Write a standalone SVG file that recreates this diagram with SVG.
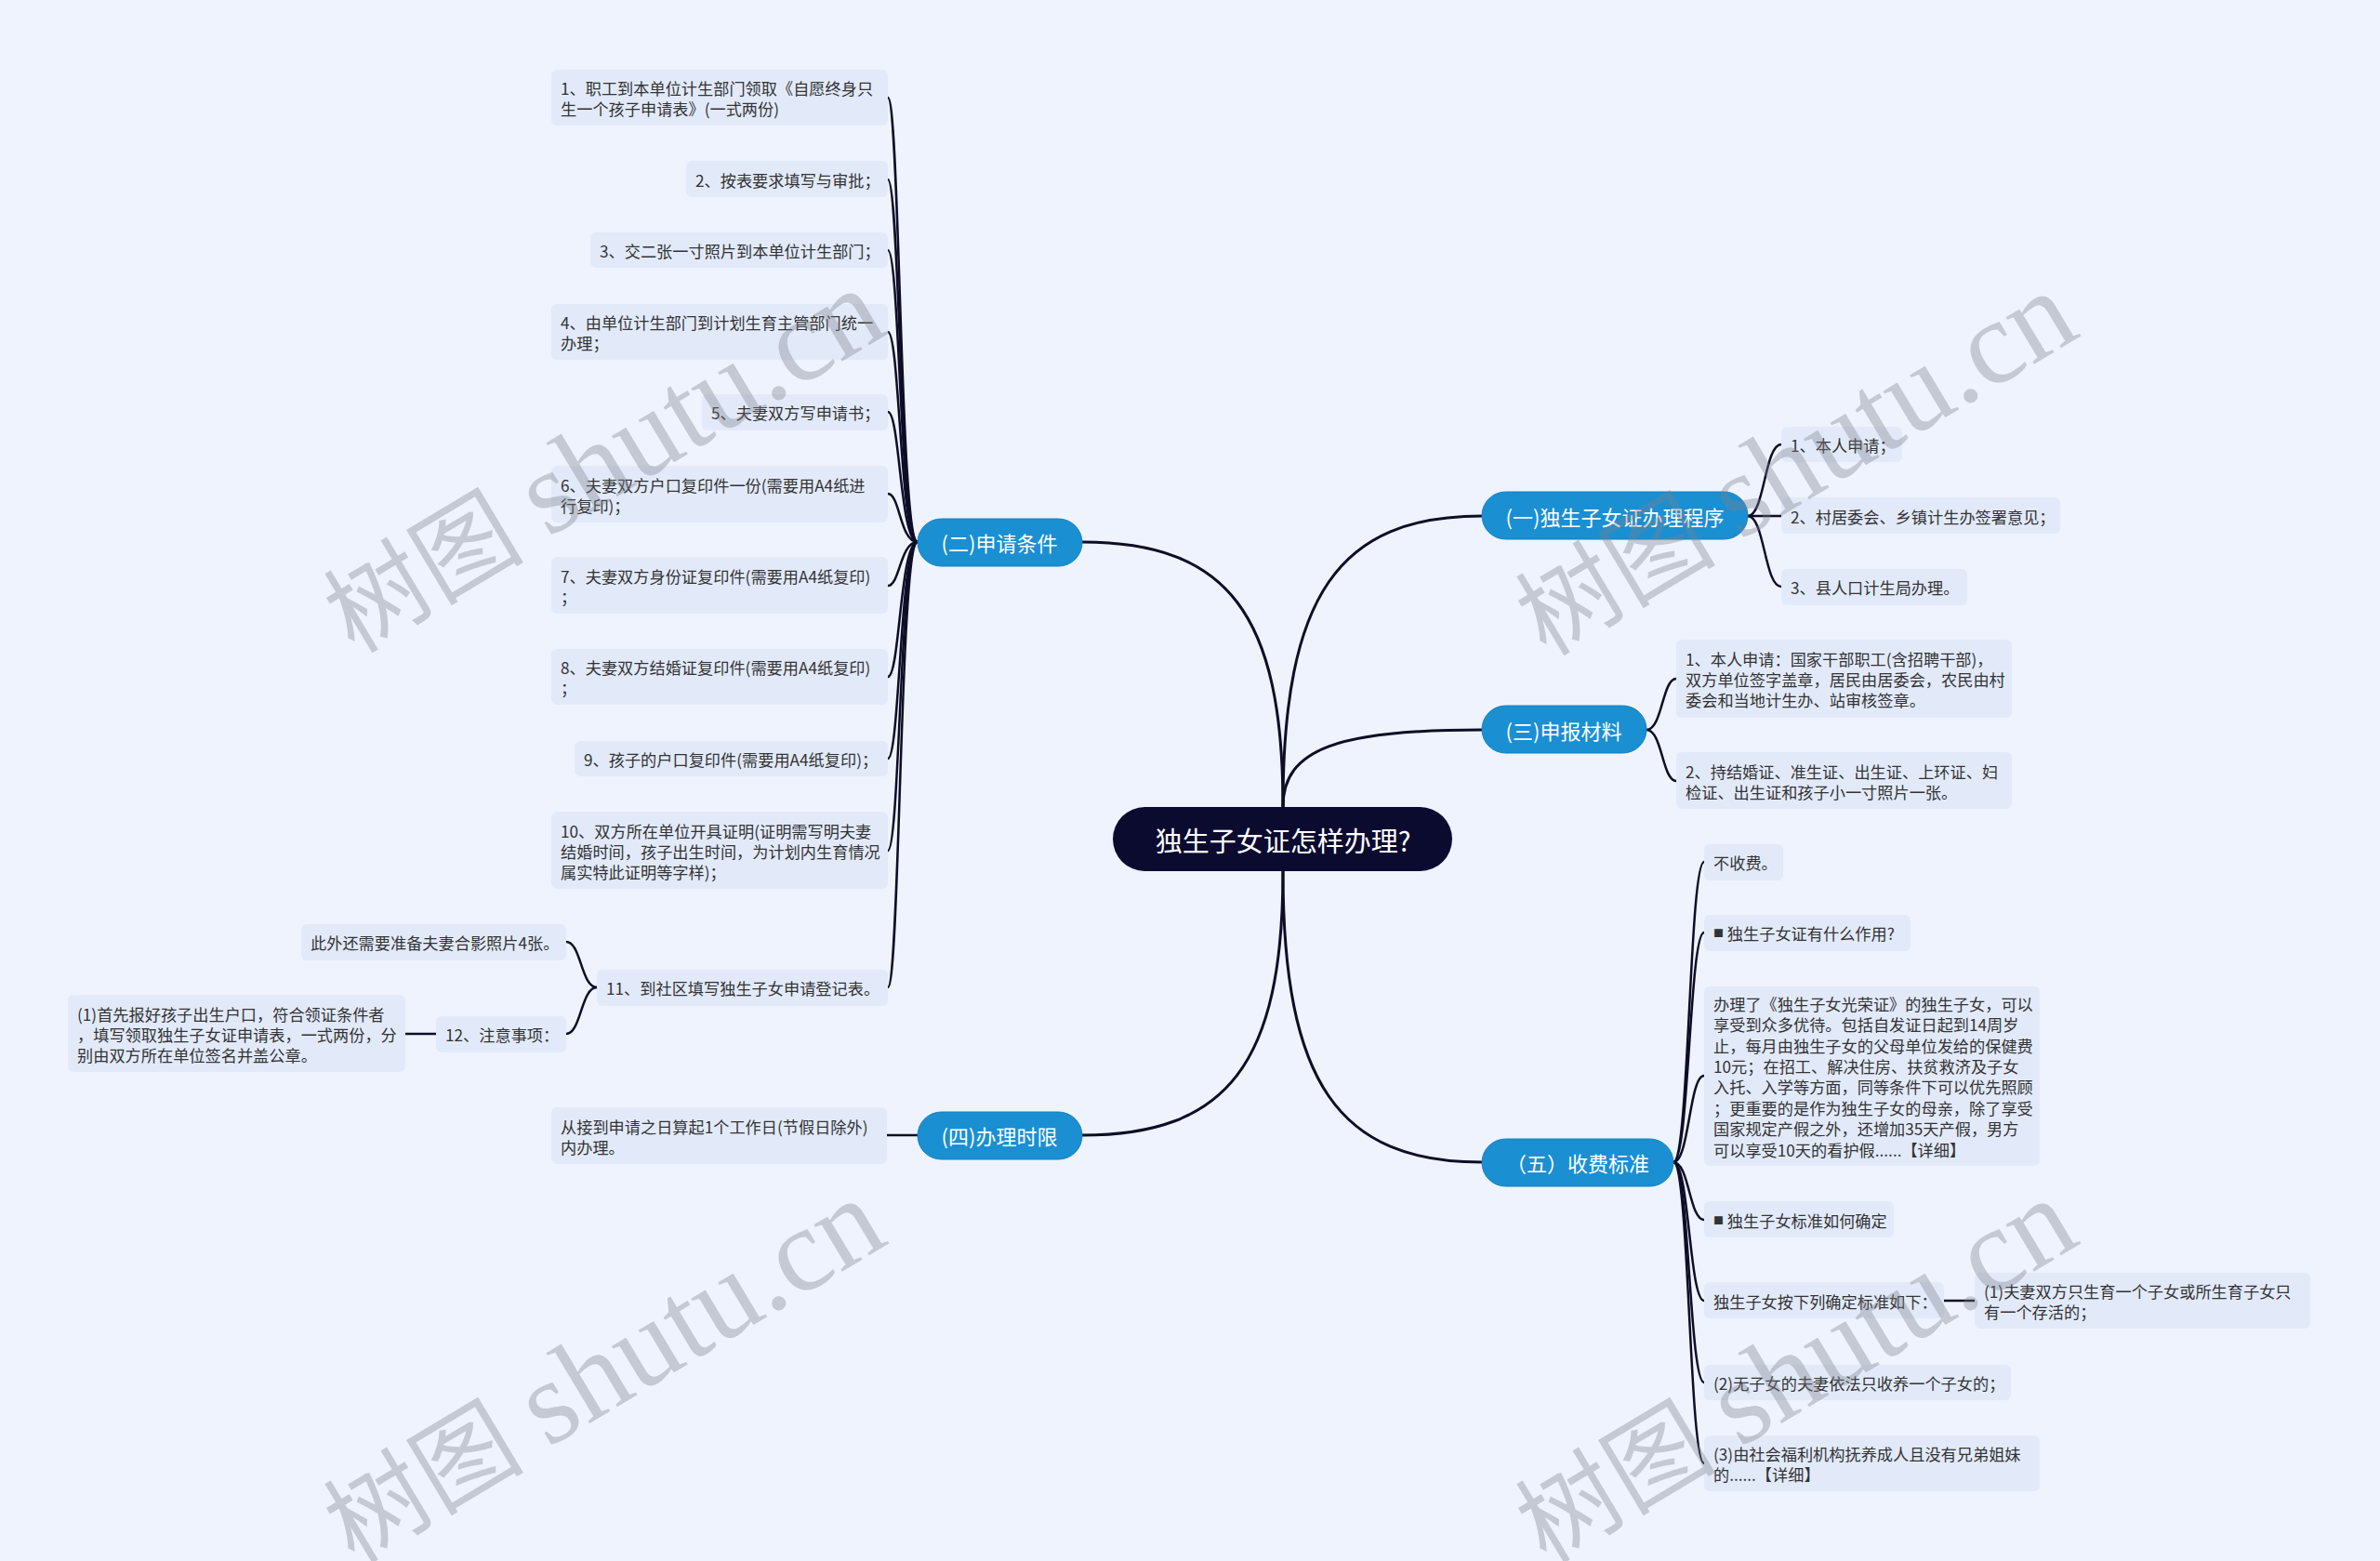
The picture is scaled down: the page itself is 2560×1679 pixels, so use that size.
<svg xmlns="http://www.w3.org/2000/svg" width="2560" height="1679" viewBox="0 0 2560 1679">
<style>
.box{fill:#e2eafa}
.t{font-family:"Noto Sans CJK SC","Liberation Sans",sans-serif;font-size:17.2px;fill:#333;dominant-baseline:central}
.b{font-size:11px}
.pill{fill:#1a8fd2;stroke:#1580c0;stroke-width:1}
.pt{font-family:"Noto Sans CJK SC","Liberation Sans",sans-serif;font-size:22px;fill:#fff;dominant-baseline:central;text-anchor:middle}
.c{fill:none;stroke:#0e0d26;stroke-width:2.5;stroke-linecap:round}
.m{fill:none;stroke:#0e0d26;stroke-width:3}
.wm{font-family:"Liberation Serif","Noto Sans CJK SC",serif;font-size:108px;fill:#7d808a;opacity:0.36}
.wl{font-size:128px}
</style>
<rect width="2560" height="1679" fill="#eef3fd"/>

<g id="connectors">
<path class="m" d="M1380,868 C1380,640 1440,555 1594,555"/>
<path class="m" d="M1380,868 C1380,805 1440,785 1594,785"/>
<path class="m" d="M1380,937 C1380,1165 1440,1250 1594,1250"/>
<path class="m" d="M1380,868 C1380,660 1320,583 1164,583"/>
<path class="m" d="M1380,937 C1380,1144 1320,1221 1164,1221"/>
<path class="c" d="M987,583 C968,583 968,105 955,105"/>
<path class="c" d="M987,583 C968,583 968,193 955,193"/>
<path class="c" d="M987,583 C968,583 968,269 955,269"/>
<path class="c" d="M987,583 C968,583 968,357 955,357"/>
<path class="c" d="M987,583 C968,583 968,443 955,443"/>
<path class="c" d="M987,583 C968,583 968,531 955,531"/>
<path class="c" d="M987,583 C968,583 968,630 955,630"/>
<path class="c" d="M987,583 C968,583 968,728 955,728"/>
<path class="c" d="M987,583 C968,583 968,816 955,816"/>
<path class="c" d="M987,583 C968,583 968,915 955,915"/>
<path class="c" d="M987,583 C968,583 968,1062 955,1062"/>
<path class="c" d="M642,1062 C625,1062 625,1013 609,1013"/>
<path class="c" d="M642,1062 C625,1062 625,1112 609,1112"/>
<path class="c" d="M469,1112 H436"/>
<path class="c" d="M987,1221 H954"/>
<path class="c" d="M1880,555 C1898,555 1898,478 1916,478"/>
<path class="c" d="M1880,555 C1898,555 1898,555 1916,555"/>
<path class="c" d="M1880,555 C1898,555 1898,631 1916,631"/>
<path class="c" d="M1771,785 C1788,785 1788,730 1803,730"/>
<path class="c" d="M1771,785 C1788,785 1788,840 1803,840"/>
<path class="c" d="M1800,1250 C1817,1250 1817,927 1833,927"/>
<path class="c" d="M1800,1250 C1817,1250 1817,1003 1833,1003"/>
<path class="c" d="M1800,1250 C1817,1250 1817,1157 1833,1157"/>
<path class="c" d="M1800,1250 C1817,1250 1817,1312 1833,1312"/>
<path class="c" d="M1800,1250 C1817,1250 1817,1399 1833,1399"/>
<path class="c" d="M1800,1250 C1817,1250 1817,1487 1833,1487"/>
<path class="c" d="M1800,1250 C1817,1250 1817,1574 1833,1574"/>
<path class="c" d="M2091,1399 H2124"/>
</g>

<g id="root">
<rect x="1197" y="868" width="365" height="69" rx="34.5" fill="#0b0b30"/>
<text x="1380" y="903" style="font-family:'Noto Sans CJK SC','Liberation Sans',sans-serif;font-size:29px;fill:#fff;dominant-baseline:central;text-anchor:middle">独生子女证怎样办理?</text>
</g>

<g id="n1"><rect class="pill" x="1594" y="529" width="286" height="51" rx="25.5"/><text class="pt" x="1737" y="555">(一)独生子女证办理程序</text></g>
<g id="n1a"><rect class="box" x="1916" y="459" width="130" height="38" rx="6"/><text class="t" x="1926" y="478">1、本人申请；</text></g>
<g id="n1b"><rect class="box" x="1916" y="535" width="300" height="39" rx="6"/><text class="t" x="1926" y="555">2、村居委会、乡镇计生办签署意见；</text></g>
<g id="n1c"><rect class="box" x="1916" y="612" width="200" height="39" rx="6"/><text class="t" x="1926" y="631">3、县人口计生局办理。</text></g>

<g id="n3"><rect class="pill" x="1594" y="759" width="177" height="51" rx="25.5"/><text class="pt" x="1682" y="785">(三)申报材料</text></g>
<g id="n3a"><rect class="box" x="1803" y="688" width="361" height="84" rx="6"/><text class="t" x="1813" y="708">1、本人申请：国家干部职工(含招聘干部)，</text><text class="t" x="1813" y="730">双方单位签字盖章，居民由居委会，农民由村</text><text class="t" x="1813" y="752">委会和当地计生办、站审核签章。</text></g>
<g id="n3b"><rect class="box" x="1803" y="809" width="361" height="61" rx="6"/><text class="t" x="1813" y="829">2、持结婚证、准生证、出生证、上环证、妇</text><text class="t" x="1813" y="851">检证、出生证和孩子小一寸照片一张。</text></g>

<g id="n5"><rect class="pill" x="1594" y="1225" width="206" height="51" rx="25.5"/><text class="pt" x="1697" y="1250">（五）收费标准</text></g>
<g id="n5a"><rect class="box" x="1833" y="908" width="85" height="39" rx="6"/><text class="t" x="1843" y="927">不收费。</text></g>
<g id="n5b"><rect class="box" x="1833" y="984" width="222" height="39" rx="6"/><text class="t" x="1843" y="1003"><tspan class="b">■</tspan> 独生子女证有什么作用?</text></g>
<g id="n5c"><rect class="box" x="1833" y="1061" width="361" height="193" rx="6"/>
<text class="t" x="1843" y="1079">办理了《独生子女光荣证》的独生子女，可以</text>
<text class="t" x="1843" y="1101">享受到众多优待。包括自发证日起到14周岁</text>
<text class="t" x="1843" y="1124">止，每月由独生子女的父母单位发给的保健费</text>
<text class="t" x="1843" y="1146">10元；在招工、解决住房、扶贫救济及子女</text>
<text class="t" x="1843" y="1168">入托、入学等方面，同等条件下可以优先照顾</text>
<text class="t" x="1843" y="1191">；更重要的是作为独生子女的母亲，除了享受</text>
<text class="t" x="1843" y="1213">国家规定产假之外，还增加35天产假，男方</text>
<text class="t" x="1843" y="1236">可以享受10天的看护假......【详细】</text></g>
<g id="n5d"><rect class="box" x="1833" y="1292" width="204" height="39" rx="6"/><text class="t" x="1843" y="1312"><tspan class="b">■</tspan> 独生子女标准如何确定</text></g>
<g id="n5e"><rect class="box" x="1833" y="1379" width="258" height="39" rx="6"/><text class="t" x="1843" y="1399">独生子女按下列确定标准如下：</text></g>
<g id="n5e1"><rect class="box" x="2124" y="1369" width="361" height="60" rx="6"/><text class="t" x="2134" y="1388">(1)夫妻双方只生育一个子女或所生育子女只</text><text class="t" x="2134" y="1410">有一个存活的；</text></g>
<g id="n5f"><rect class="box" x="1833" y="1468" width="330" height="38" rx="6"/><text class="t" x="1843" y="1487">(2)无子女的夫妻依法只收养一个子女的；</text></g>
<g id="n5g"><rect class="box" x="1833" y="1544" width="361" height="60" rx="6"/><text class="t" x="1843" y="1563">(3)由社会福利机构抚养成人且没有兄弟姐妹</text><text class="t" x="1843" y="1585">的......【详细】</text></g>

<g id="n2"><rect class="pill" x="987" y="558" width="177" height="51" rx="25.5"/><text class="pt" x="1075" y="583">(二)申请条件</text></g>
<g id="n2_1"><rect class="box" x="593" y="75" width="362" height="60" rx="6"/><text class="t" x="603" y="94">1、职工到本单位计生部门领取《自愿终身只</text><text class="t" x="603" y="116">生一个孩子申请表》(一式两份)</text></g>
<g id="n2_2"><rect class="box" x="738" y="173" width="217" height="39" rx="6"/><text class="t" x="748" y="193">2、按表要求填写与审批；</text></g>
<g id="n2_3"><rect class="box" x="635" y="250" width="320" height="38" rx="6"/><text class="t" x="645" y="269">3、交二张一寸照片到本单位计生部门；</text></g>
<g id="n2_4"><rect class="box" x="593" y="327" width="362" height="60" rx="6"/><text class="t" x="603" y="346">4、由单位计生部门到计划生育主管部门统一</text><text class="t" x="603" y="368">办理；</text></g>
<g id="n2_5"><rect class="box" x="755" y="424" width="200" height="39" rx="6"/><text class="t" x="765" y="443">5、夫妻双方写申请书；</text></g>
<g id="n2_6"><rect class="box" x="593" y="501" width="362" height="61" rx="6"/><text class="t" x="603" y="521">6、夫妻双方户口复印件一份(需要用A4纸进</text><text class="t" x="603" y="543">行复印)；</text></g>
<g id="n2_7"><rect class="box" x="593" y="599" width="362" height="61" rx="6"/><text class="t" x="603" y="619">7、夫妻双方身份证复印件(需要用A4纸复印)</text><text class="t" x="603" y="641">；</text></g>
<g id="n2_8"><rect class="box" x="593" y="698" width="362" height="60" rx="6"/><text class="t" x="603" y="717">8、夫妻双方结婚证复印件(需要用A4纸复印)</text><text class="t" x="603" y="739">；</text></g>
<g id="n2_9"><rect class="box" x="618" y="797" width="337" height="38" rx="6"/><text class="t" x="628" y="816">9、孩子的户口复印件(需要用A4纸复印)；</text></g>
<g id="n2_10"><rect class="box" x="593" y="873" width="362" height="83" rx="6"/><text class="t" x="603" y="893">10、双方所在单位开具证明(证明需写明夫妻</text><text class="t" x="603" y="915">结婚时间，孩子出生时间，为计划内生育情况</text><text class="t" x="603" y="937">属实特此证明等字样)；</text></g>
<g id="n2_11"><rect class="box" x="642" y="1043" width="313" height="39" rx="6"/><text class="t" x="652" y="1062">11、到社区填写独生子女申请登记表。</text></g>
<g id="n2_11a"><rect class="box" x="324" y="994" width="285" height="39" rx="6"/><text class="t" x="334" y="1013">此外还需要准备夫妻合影照片4张。</text></g>
<g id="n2_11b"><rect class="box" x="469" y="1093" width="140" height="39" rx="6"/><text class="t" x="479" y="1112">12、注意事项：</text></g>
<g id="n2_11b1"><rect class="box" x="73" y="1070" width="363" height="83" rx="6"/><text class="t" x="83" y="1090">(1)首先报好孩子出生户口，符合领证条件者</text><text class="t" x="83" y="1112">，填写领取独生子女证申请表，一式两份，分</text><text class="t" x="83" y="1134">别由双方所在单位签名并盖公章。</text></g>

<g id="n4"><rect class="pill" x="987" y="1196" width="177" height="51" rx="25.5"/><text class="pt" x="1075" y="1221">(四)办理时限</text></g>
<g id="n4a"><rect class="box" x="593" y="1191" width="361" height="61" rx="6"/><text class="t" x="603" y="1211">从接到申请之日算起1个工作日(节假日除外)</text><text class="t" x="603" y="1233">内办理。</text></g>

<g id="watermarks">
<text class="wm" transform="translate(381,704) rotate(-31)">树图 <tspan class="wl">shutu.cn</tspan></text>
<text class="wm" transform="translate(1663,707) rotate(-31)">树图 <tspan class="wl">shutu.cn</tspan></text>
<text class="wm" transform="translate(381,1683) rotate(-31)">树图 <tspan class="wl">shutu.cn</tspan></text>
<text class="wm" transform="translate(1663,1683) rotate(-31)">树图 <tspan class="wl">shutu.cn</tspan></text>
</g>
</svg>
